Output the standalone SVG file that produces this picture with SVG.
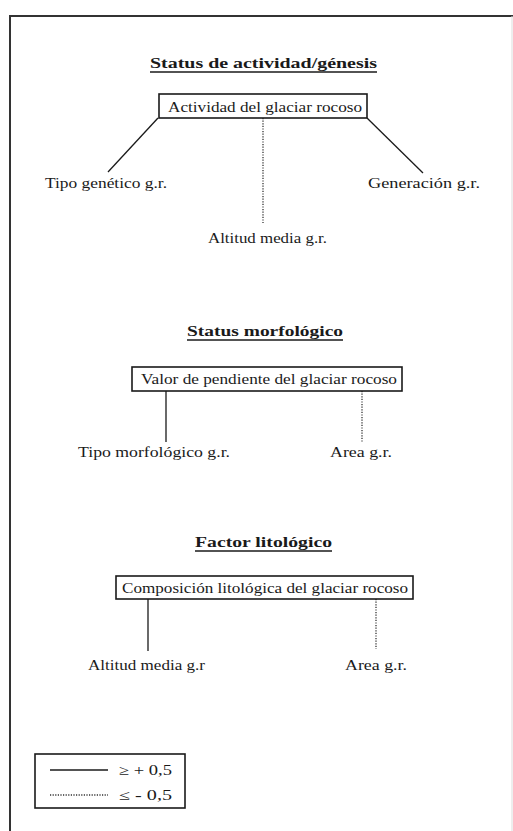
<svg xmlns="http://www.w3.org/2000/svg" width="513" height="831" viewBox="0 0 513 831">
<style>
text{font-family:"Liberation Serif","Times New Roman",serif;fill:#1a1a1a;font-size:14px}
.t{font-weight:bold;font-size:14px}
.ul{stroke:#1a1a1a;stroke-width:1.3}
.box{fill:#fff;stroke:#1a1a1a;stroke-width:1.6}
.s{stroke:#1a1a1a;stroke-width:1.3;fill:none}
.d{stroke:#333;stroke-width:1.3;stroke-dasharray:1.2 1.4;fill:none}
.frame{stroke:#333;stroke-width:2;fill:none}
</style>
<rect width="513" height="831" fill="#fff"/>
<g id="frame">
<polyline class="frame" points="10,831 10,16 513,16"/>
<line x1="512" y1="16" x2="512" y2="831" stroke="#ddd" stroke-width="1"/>
</g>
<g id="titles">
<text class="t" x="150" y="68" textLength="227" lengthAdjust="spacingAndGlyphs">Status de actividad/génesis</text>
<line class="ul" x1="150" y1="72" x2="377" y2="72"/>
<text class="t" x="187" y="336" textLength="156" lengthAdjust="spacingAndGlyphs">Status morfológico</text>
<line class="ul" x1="187" y1="340" x2="343" y2="340"/>
<text class="t" x="195" y="547" textLength="137" lengthAdjust="spacingAndGlyphs">Factor litológico</text>
<line class="ul" x1="195" y1="551" x2="332" y2="551"/>
</g>
<g id="connectors">
<line class="s" x1="158" y1="118" x2="108" y2="172"/>
<line class="s" x1="367" y1="118" x2="423" y2="173"/>
<line class="d" x1="263" y1="118" x2="263" y2="223"/>
<line class="s" x1="166" y1="391" x2="166" y2="442"/>
<line class="d" x1="362" y1="391" x2="362" y2="442"/>
<line class="s" x1="148" y1="599" x2="148" y2="651"/>
<line class="d" x1="376" y1="599" x2="376" y2="649"/>
</g>
<g id="n-actividad">
<rect class="box" x="159" y="94" width="208" height="24"/>
<text x="168" y="112" textLength="194" lengthAdjust="spacingAndGlyphs">Actividad del glaciar rocoso</text>
</g>
<g id="n-tipo-genetico">
<text x="45" y="188" textLength="122" lengthAdjust="spacingAndGlyphs">Tipo genético g.r.</text>
</g>
<g id="n-generacion">
<text x="368" y="188" textLength="112" lengthAdjust="spacingAndGlyphs">Generación g.r.</text>
</g>
<g id="n-altitud-1">
<text x="208" y="243" textLength="119" lengthAdjust="spacingAndGlyphs">Altitud media g.r.</text>
</g>
<g id="n-pendiente">
<rect class="box" x="132" y="367" width="270" height="24"/>
<text x="141" y="384" textLength="256" lengthAdjust="spacingAndGlyphs">Valor de pendiente del glaciar rocoso</text>
</g>
<g id="n-tipo-morfologico">
<text x="78" y="457" textLength="152" lengthAdjust="spacingAndGlyphs">Tipo morfológico g.r.</text>
</g>
<g id="n-area-1">
<text x="330" y="457" textLength="62" lengthAdjust="spacingAndGlyphs">Area g.r.</text>
</g>
<g id="n-composicion">
<rect class="box" x="116" y="576" width="297" height="23"/>
<text x="122" y="593" textLength="286" lengthAdjust="spacingAndGlyphs">Composición litológica del glaciar rocoso</text>
</g>
<g id="n-altitud-2">
<text x="88" y="670" textLength="117" lengthAdjust="spacingAndGlyphs">Altitud media g.r</text>
</g>
<g id="n-area-2">
<text x="345" y="670" textLength="62" lengthAdjust="spacingAndGlyphs">Area g.r.</text>
</g>
<g id="legend">
<rect class="box" x="35" y="754" width="150" height="54"/>
<line class="s" x1="50" y1="770" x2="108" y2="770"/>
<text x="119" y="775" font-family="Liberation Sans, Arial, sans-serif" font-size="12" textLength="53" lengthAdjust="spacingAndGlyphs">≥ + 0,5</text>
<line class="d" x1="50" y1="795" x2="108" y2="795"/>
<text x="119" y="800" font-family="Liberation Sans, Arial, sans-serif" font-size="12" textLength="53" lengthAdjust="spacingAndGlyphs">≤ - 0,5</text>
</g>
</svg>
